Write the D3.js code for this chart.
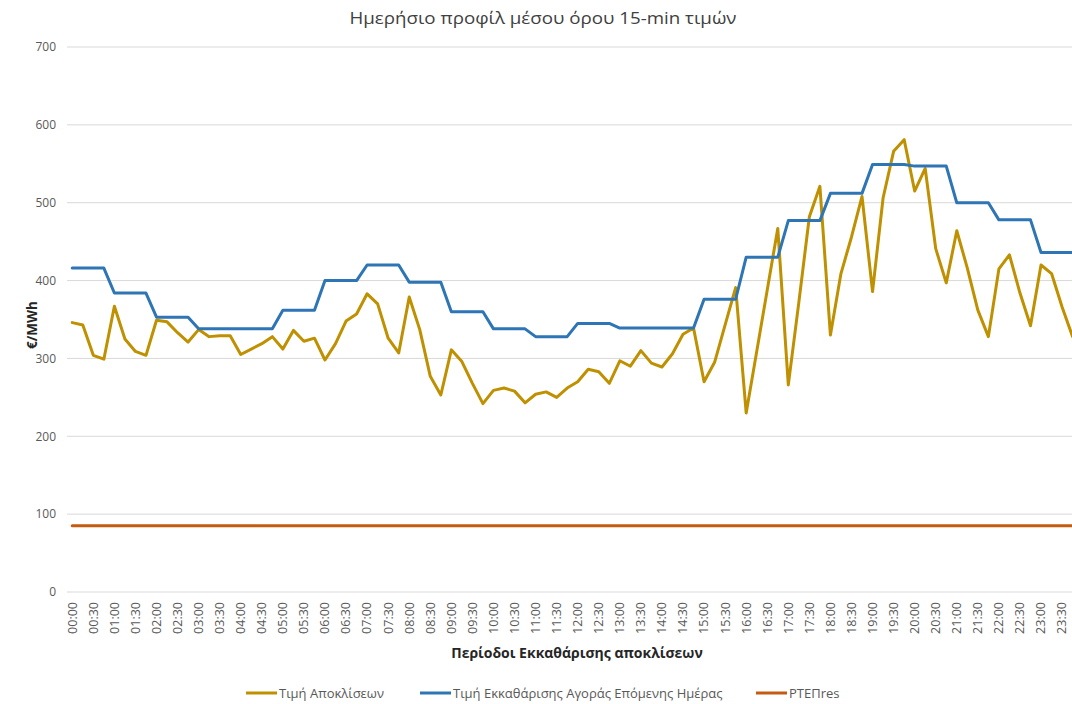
<!DOCTYPE html>
<html>
<head>
<meta charset="utf-8">
<script src="https://cdn.jsdelivr.net/npm/d3@7.9.0/dist/d3.min.js"></script>
<style>
  body { margin: 0; background: #fff; }
  svg text { font-family: "Open Sans", "Noto Sans", sans-serif; }
</style>
</head>
<body>
<svg id="chart" width="1072" height="704"></svg>
<script>
// 15-min settlement periods
const periods = ("00:00 00:15 00:30 00:45 01:00 01:15 01:30 01:45 02:00 02:15 02:30 02:45 " +
  "03:00 03:15 03:30 03:45 04:00 04:15 04:30 04:45 05:00 05:15 05:30 05:45 " +
  "06:00 06:15 06:30 06:45 07:00 07:15 07:30 07:45 08:00 08:15 08:30 08:45 " +
  "09:00 09:15 09:30 09:45 10:00 10:15 10:30 10:45 11:00 11:15 11:30 11:45 " +
  "12:00 12:15 12:30 12:45 13:00 13:15 13:30 13:45 14:00 14:15 14:30 14:45 " +
  "15:00 15:15 15:30 15:45 16:00 16:15 16:30 16:45 17:00 17:15 17:30 17:45 " +
  "18:00 18:15 18:30 18:45 19:00 19:15 19:30 19:45 20:00 20:15 20:30 20:45 " +
  "21:00 21:15 21:30 21:45 22:00 22:15 22:30 22:45 23:00 23:15 23:30 23:45").split(" ");

// Τιμή Αποκλίσεων
const imbalancePrice = [
  346, 343, 304, 299, 367, 325, 309, 304, 349, 347, 333, 321,
  337, 328, 329, 329, 305, 312, 319, 328, 312, 336, 322, 326,
  298, 319, 348, 357, 383, 370, 326, 307, 379, 337, 277, 253,
  311, 296, 268, 242, 259, 262, 258, 243, 254, 257, 250, 262,
  270, 286, 283, 268, 297, 290, 310, 294, 289, 306, 331, 339,
  270, 295, 343, 391, 230, 309, 388, 467, 266, 372, 482, 521,
  330, 409, 456, 508, 386, 506, 566, 581, 515, 544, 441, 397,
  464, 416, 362, 328, 415, 433, 384, 342, 420, 409, 366, 328
];

// Τιμή Εκκαθάρισης Αγοράς Επόμενης Ημέρας
const dayAheadPrice = [
  416, 416, 416, 416, 384, 384, 384, 384, 353, 353, 353, 353,
  338, 338, 338, 338, 338, 338, 338, 338, 362, 362, 362, 362,
  400, 400, 400, 400, 420, 420, 420, 420, 398, 398, 398, 398,
  360, 360, 360, 360, 338, 338, 338, 338, 328, 328, 328, 328,
  345, 345, 345, 345, 339, 339, 339, 339, 339, 339, 339, 339,
  376, 376, 376, 376, 430, 430, 430, 430, 477, 477, 477, 477,
  512, 512, 512, 512, 549, 549, 549, 549, 547, 547, 547, 547,
  500, 500, 500, 500, 478, 478, 478, 478, 436, 436, 436, 436
];

// ΡΤΕΠres
const rtepRes = [
  85, 85, 85, 85, 85, 85, 85, 85, 85, 85, 85, 85,
  85, 85, 85, 85, 85, 85, 85, 85, 85, 85, 85, 85,
  85, 85, 85, 85, 85, 85, 85, 85, 85, 85, 85, 85,
  85, 85, 85, 85, 85, 85, 85, 85, 85, 85, 85, 85,
  85, 85, 85, 85, 85, 85, 85, 85, 85, 85, 85, 85,
  85, 85, 85, 85, 85, 85, 85, 85, 85, 85, 85, 85,
  85, 85, 85, 85, 85, 85, 85, 85, 85, 85, 85, 85,
  85, 85, 85, 85, 85, 85, 85, 85, 85, 85, 85, 85
];

const yTicks = [0, 100, 200, 300, 400, 500, 600, 700];

const seriesNames = ["Τιμή Αποκλίσεων", "Τιμή Εκκαθάρισης Αγοράς Επόμενης Ημέρας", "ΡΤΕΠres"];
const colors = ["#bf9000", "#2e75b6", "#c55a11"];

const svg = d3.select("#chart");
const plot = { left: 67, top: 47, bottom: 592, step: 10.53 };

const x = d3.scaleBand()
  .domain(periods)
  .range([plot.left, plot.left + plot.step * periods.length])
  .paddingInner(0).paddingOuter(0);
const xc = d => x(d) + x.bandwidth() / 2;

const y = d3.scaleLinear().domain([0, 700]).range([plot.bottom, plot.top]);

// gridlines
svg.append("g")
  .selectAll("line")
  .data(yTicks)
  .enter()
  .append("line")
  .attr("x1", plot.left)
  .attr("x2", 1072)
  .attr("y1", d => y(d))
  .attr("y2", d => y(d))
  .attr("stroke", "#d9d9d9")
  .attr("stroke-width", 1);

// y axis labels
const yAxis = svg.append("g")
  .attr("transform", `translate(${plot.left - 11},0)`)
  .call(d3.axisLeft(y).tickValues(yTicks).tickSize(0).tickPadding(0));
yAxis.select(".domain").remove();
yAxis.selectAll("text")
  .style("font-size", "12px")
  .attr("fill", "#595959");

// x axis labels, every 30 minutes
const xAxis = svg.append("g")
  .attr("transform", `translate(0,${plot.bottom})`)
  .call(d3.axisBottom(x).tickValues(periods.filter((d, i) => i % 2 === 0)).tickSize(0).tickPadding(0));
xAxis.select(".domain").remove();
xAxis.selectAll("text")
  .style("font-size", "12.5px")
  .attr("fill", "#595959")
  .attr("text-anchor", "end")
  .attr("dy", "0.35em")
  .attr("transform", "translate(0,10) rotate(-90)")
  .attr("x", 0)
  .attr("y", 0);

// lines
const line = d3.line()
  .x((d, i) => xc(periods[i]))
  .y(d => y(d));

[imbalancePrice, dayAheadPrice, rtepRes].forEach((vals, k) => {
  svg.append("path")
    .datum(vals)
    .attr("fill", "none")
    .attr("stroke", colors[k])
    .attr("stroke-width", 3)
    .attr("stroke-linejoin", "round")
    .attr("stroke-linecap", "round")
    .attr("d", line);
});

// title
svg.append("text")
  .attr("x", 543)
  .attr("y", 24)
  .attr("text-anchor", "middle")
  .attr("textLength", 387)
  .attr("lengthAdjust", "spacingAndGlyphs")
  .style("font-size", "17px")
  .attr("fill", "#404040")
  .text("Ημερήσιο προφίλ μέσου όρου 15-min τιμών");

// axis titles
svg.append("text")
  .attr("x", 577)
  .attr("y", 658)
  .attr("text-anchor", "middle")
  .style("font-size", "14px")
  .style("font-weight", "bold")
  .attr("fill", "#262626")
  .text("Περίοδοι Εκκαθάρισης αποκλίσεων");

svg.append("text")
  .attr("transform", "translate(37,325) rotate(-90)")
  .attr("text-anchor", "middle")
  .style("font-size", "13.5px")
  .style("font-weight", "bold")
  .attr("fill", "#262626")
  .text("€/MWh");

// legend
const legendX = [246, 420, 756];
const legend = svg.append("g");
seriesNames.forEach((name, k) => {
  const g = legend.append("g").attr("transform", `translate(${legendX[k]},693)`);
  g.append("line")
    .attr("x1", 0).attr("x2", 31)
    .attr("y1", 0).attr("y2", 0)
    .attr("stroke", colors[k])
    .attr("stroke-width", 3);
  g.append("text")
    .attr("x", 33)
    .attr("dy", "0.35em")
    .style("font-size", "13px")
    .attr("fill", "#595959")
    .text(name);
});
</script>
</body>
</html>
